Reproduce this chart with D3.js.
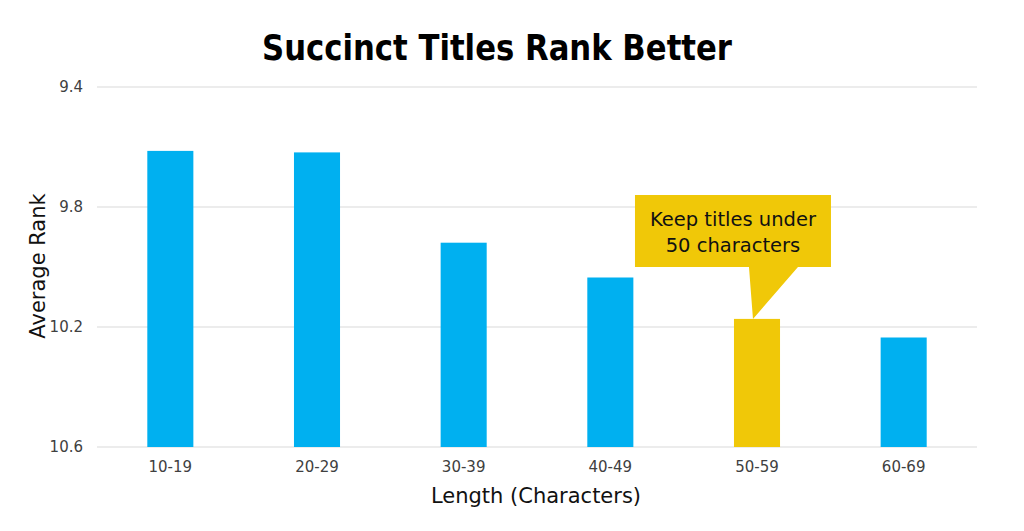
<!DOCTYPE html>
<html>
<head>
<meta charset="utf-8">
<script src="https://cdn.jsdelivr.net/npm/d3@7"></script>
<style>
  body { margin: 0; background: #fff; }
  svg { font-family: "DejaVu Sans", Verdana, sans-serif; }
</style>
</head>
<body>
<div id="chart"></div>
<script>
// chart data
const lengthBins = ["10-19", "20-29", "30-39", "40-49", "50-59", "60-69"];
const avgRank = [9.613, 9.618, 9.919, 10.035, 10.173, 10.235];
const yTicks = [9.4, 9.8, 10.2, 10.6];
const highlightBin = "50-59";
const calloutLines = ["Keep titles under", "50 characters"];

const width = 1024;
const height = 531;
const margin = { top: 87, right: 47, bottom: 84, left: 97 };
const innerWidth = width - margin.left - margin.right;
const innerHeight = height - margin.top - margin.bottom;

const blue = "#00b0f0";
const gold = "#f0c808";

const svg = d3.select("#chart")
  .append("svg")
  .attr("width", width)
  .attr("height", height);

const g = svg.append("g")
  .attr("transform", `translate(${margin.left}, ${margin.top})`);

// x and y scales (rank axis is reversed: 9.4 on top)
const xScale = d3.scaleBand()
  .domain(lengthBins)
  .range([0, innerWidth])
  .paddingInner(0.686)
  .paddingOuter(0.343);

const yScale = d3.scaleLinear()
  .domain([9.4, 10.6])
  .range([0, innerHeight]);

// gridlines
g.selectAll(".grid")
  .data(yTicks)
  .join("line")
  .attr("class", "grid")
  .attr("x1", 0)
  .attr("x2", innerWidth)
  .attr("y1", d => yScale(d))
  .attr("y2", d => yScale(d))
  .attr("stroke", "#d9d9d9")
  .attr("stroke-width", 1);

// bars grow up from the bottom (10.6)
g.selectAll(".bar")
  .data(lengthBins)
  .join("rect")
  .attr("class", "bar")
  .attr("x", d => xScale(d))
  .attr("width", xScale.bandwidth())
  .attr("y", (d, i) => yScale(avgRank[i]))
  .attr("height", (d, i) => yScale(10.6) - yScale(avgRank[i]))
  .attr("fill", d => d === highlightBin ? gold : blue);

// axes
const yAxis = d3.axisLeft(yScale)
  .tickValues(yTicks)
  .tickFormat(d3.format(".1f"))
  .tickSize(0)
  .tickPadding(14);

g.append("g")
  .call(yAxis)
  .call(a => a.select(".domain").remove())
  .call(a => a.selectAll("text")
    .attr("font-size", 15)
    .attr("fill", "#404040")
    .attr("font-family", "DejaVu Sans, sans-serif"));

const xAxis = d3.axisBottom(xScale).tickSize(0).tickPadding(14);

g.append("g")
  .attr("transform", `translate(0, ${innerHeight})`)
  .call(xAxis)
  .call(a => a.select(".domain").remove())
  .call(a => a.selectAll("text")
    .attr("font-size", 15)
    .attr("fill", "#404040")
    .attr("font-family", "DejaVu Sans, sans-serif"));

// callout on the highlighted bar
const hiIndex = lengthBins.indexOf(highlightBin);
const hiX = xScale(highlightBin);
const tipX = hiX + 19;
const tipY = yScale(avgRank[hiIndex]);
const boxX = hiX - 99;
const boxY = 195 - margin.top;
const boxW = 196;
const boxH = 72;

g.append("path")
  .attr("d", `M${boxX},${boxY} h${boxW} v${boxH} H${hiX + 64} L${tipX},${tipY} L${hiX + 15},${boxY + boxH} H${boxX} Z`)
  .attr("fill", gold);

g.append("text")
  .attr("x", boxX + boxW / 2)
  .attr("y", boxY + 31)
  .attr("text-anchor", "middle")
  .attr("font-size", 19.5)
  .attr("fill", "#111")
  .selectAll("tspan")
  .data(calloutLines)
  .join("tspan")
  .attr("x", boxX + boxW / 2)
  .attr("dy", (d, i) => i === 0 ? 0 : 26)
  .text(d => d);

// title
svg.append("text")
  .attr("x", 497)
  .attr("y", 60)
  .attr("text-anchor", "middle")
  .attr("font-size", 36)
  .attr("font-weight", "bold")
  .attr("fill", "#000")
  .attr("textLength", 470)
  .attr("lengthAdjust", "spacingAndGlyphs")
  .text("Succinct Titles Rank Better");

// axis labels
svg.append("text")
  .attr("x", 536)
  .attr("y", 503)
  .attr("text-anchor", "middle")
  .attr("font-size", 21)
  .attr("fill", "#111")
  .text("Length (Characters)");

svg.append("text")
  .attr("transform", "rotate(-90)")
  .attr("x", -266)
  .attr("y", 45)
  .attr("text-anchor", "middle")
  .attr("font-size", 21)
  .attr("fill", "#111")
  .text("Average Rank");
</script>
</body>
</html>
